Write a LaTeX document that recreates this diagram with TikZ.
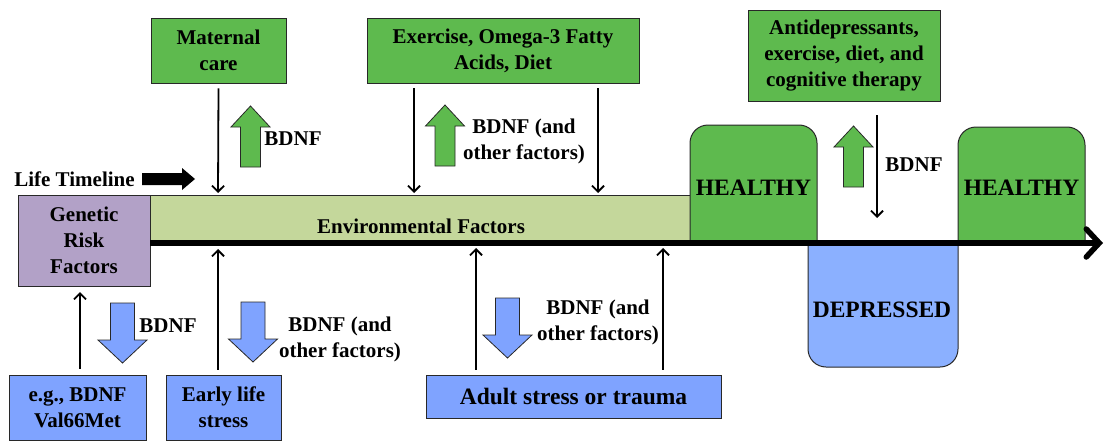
\documentclass[tikz,border=0pt]{standalone}
\usepackage{fontspec}
\setmainfont{Liberation Serif}
\usetikzlibrary{arrows.meta}
\definecolor{gfill}{RGB}{94,186,78}
\definecolor{envfill}{RGB}{196,215,155}
\definecolor{pfill}{RGB}{178,161,199}
\definecolor{bfill}{RGB}{127,163,255}
\definecolor{dfill}{RGB}{139,176,255}
\definecolor{bordc}{RGB}{40,40,40}
\tikzset{
  txt/.style={font=\fontsize{21}{26}\selectfont\bfseries},
  bigtxt/.style={font=\fontsize{23.5}{28}\selectfont\bfseries},
  box/.style={draw=bordc, line width=0.9pt, align=center, inner sep=0pt, txt},
  lab/.style={align=center, inner sep=0pt, txt},
  conn/.style={line width=1.8pt, -{Straight Barb[length=6pt,width=12pt]}},
  uparr/.pic={\path[pic actions] (-10,61) -- (-10,21) -- (-19.5,21) -- (0,0) -- (19.5,21) -- (10,21) -- (10,61) -- cycle;},
  downarr/.pic={\path[pic actions] (-12,0) -- (-12,37) -- (-24.5,37) -- (0,60) -- (24.5,37) -- (12,37) -- (12,0) -- cycle;},
  garr/.style={fill=gfill, draw=bordc, line width=0.8pt},
  barr/.style={fill=bfill, draw=bordc, line width=0.8pt}
}
\begin{document}
\begin{tikzpicture}[x=1pt,y=-1pt]
\useasboundingbox (0,0) rectangle (1107,441);

% environmental bar and genetic box
\node[box, fill=envfill, minimum width=540, minimum height=48] (env) at (420,219) {};
\node[lab] (envlab) at (421,226) {Environmental Factors};
\node[box, fill=pfill, minimum width=132, minimum height=91] (genetic) at (84,240.5) {Genetic\\Risk\\Factors};

% healthy / depressed
\draw[fill=gfill, draw=bordc, line width=1pt, rounded corners=18] (690,243) -- (690,125) -- (817,125) -- (817,243);
\node[lab, bigtxt] (healthyA) at (753.5,188) {HEALTHY};
\draw[fill=gfill, draw=bordc, line width=1pt, rounded corners=18] (958,243) -- (958,127) -- (1085,127) -- (1085,243);
\node[lab, bigtxt] (healthyB) at (1021.5,188) {HEALTHY};
\draw[fill=dfill, draw=bordc, line width=1pt, rounded corners=18] (808,245) -- (808,367) -- (958,367) -- (958,245);
\node[lab, bigtxt] (depressed) at (882,310) {DEPRESSED};

% timeline
\coordinate (tstart) at (150,243);
\coordinate (tend) at (1103,243);
\draw[line width=5.5pt, -{Straight Barb[length=13pt,width=28pt,line cap=round]}] (tstart) -- (tend);

\node[lab] (life) at (74.5,179) {Life Timeline};
\fill (142,173) -- (182,173) -- (182,168) -- (195,179) -- (182,190) -- (182,185) -- (142,185) -- cycle;

% top boxes
\node[box, fill=gfill, minimum width=135, minimum height=65] (maternal) at (218.5,50.5) {Maternal\\care};
\node[box, fill=gfill, minimum width=272, minimum height=65] (exercise) at (503,50.5) {Exercise, Omega-3 Fatty\\Acids, Diet};
\node[box, fill=gfill, minimum width=192, minimum height=91] (antidep) at (844,55.5) {Antidepressants,\\exercise, diet, and\\cognitive therapy};

% bottom boxes
\node[box, fill=bfill, minimum width=137, minimum height=65] (eg) at (77.5,407.5) {e.g., BDNF\\Val66Met};
\node[box, fill=bfill, minimum width=115, minimum height=65] (early) at (223.5,407.5) {Early life\\stress};
\node[box, fill=bfill, minimum width=295, minimum height=43, bigtxt] (adult) at (573.5,396.5) {Adult stress or trauma};

% connector end points
\coordinate (m1) at (218,193);
\coordinate (e1) at (414,193);
\coordinate (e2) at (598,193);
\coordinate (a1) at (877,218);
\coordinate (g1) at (80,292);
\coordinate (s1) at (218,249);
\coordinate (t1) at (476,248);
\coordinate (t2) at (663,248);

\draw[conn] ([yshift=-5pt]maternal.south) -- (m1);
\draw[conn] ([yshift=-5pt]exercise.south -| e1) -- (e1);
\draw[conn] ([yshift=-5pt]exercise.south -| e2) -- (e2);
\draw[conn] ([yshift=-14pt]antidep.south -| a1) -- (a1);
\draw[conn] ([yshift=6pt]eg.north -| g1) -- (g1);
\draw[conn] ([yshift=5pt]early.north -| s1) -- (s1);
\draw[conn] ([yshift=5pt]adult.north -| t1) -- (t1);
\draw[conn] ([yshift=5pt]adult.north -| t2) -- (t2);

% block arrows
\pic[garr] at (250.5,106) {uparr};
\pic[garr] at (445,105) {uparr};
\pic[garr] at (853.5,126) {uparr};
\pic[barr] at (122.5,303) {downarr};
\pic[barr] at (253,302) {downarr};
\pic[barr] at (507.5,298) {downarr};

% labels
\node[lab] (l1) at (293,139) {BDNF};
\node[lab] (l2) at (524,141) {BDNF (and\\other factors)};
\node[lab] (l3) at (914,165) {BDNF};
\node[lab] (l4) at (168,326) {BDNF};
\node[lab] (l5) at (340,339) {BDNF (and\\other factors)};
\node[lab] (l6) at (598,322) {BDNF (and\\other factors)};
\end{tikzpicture}
\end{document}
